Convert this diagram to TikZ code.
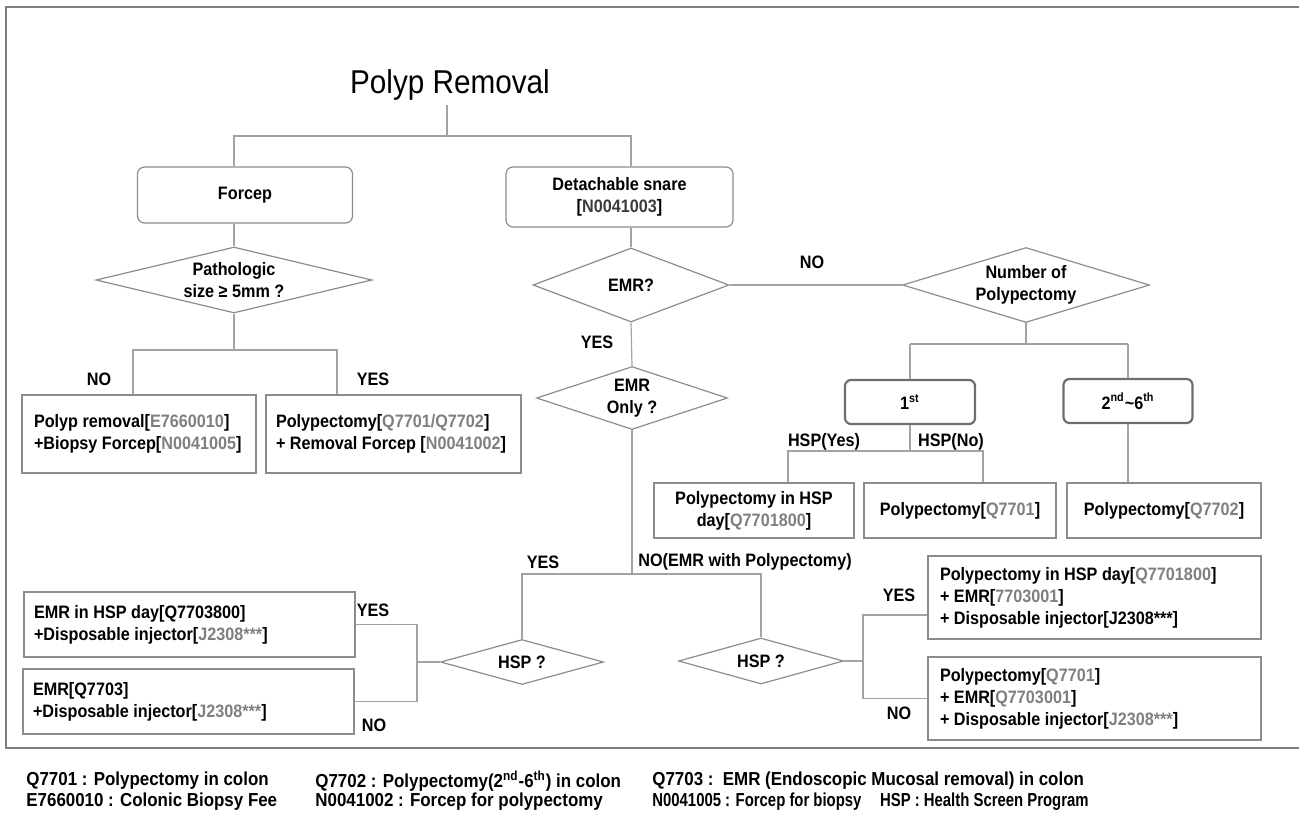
\documentclass[tikz,border=0pt]{standalone}
\usepackage{fontspec}
\setmainfont{Liberation Sans}[FakeStretch=0.9]
\newfontfamily\chartfont{Liberation Sans Bold}[FakeStretch=0.9]
\usepackage{xcolor}
\usepackage{graphicx}
\usepackage{tikz}
\usetikzlibrary{shapes.geometric, arrows, arrows.meta, positioning, calc}
\definecolor{linegray}{HTML}{A3A3A3}
\definecolor{boxgray}{HTML}{8C8C8C}
\definecolor{codegray}{HTML}{7F7F7F}
\definecolor{snaregray}{HTML}{3C3C3C}
\definecolor{framegray}{HTML}{7F7F7F}
\definecolor{stepgray}{HTML}{6E6E6E}
\tikzstyle{choice} = [rectangle,
rounded corners=3.5pt,
draw=boxgray, line width=0.6pt,
align=center]
\tikzstyle{count} = [rectangle,
rounded corners=3pt,
draw=stepgray, line width=1.1pt,
align=center]
\tikzstyle{decision} = [diamond,
draw=boxgray, line width=0.6pt,
inner sep=0pt, align=center]
\tikzstyle{result} = [rectangle,
draw=boxgray, line width=0.6pt,
inner sep=0pt, align=center]
\tikzstyle{leftresult} = [rectangle,
draw=boxgray, line width=0.6pt,
inner ysep=0pt, align=flush left]
\tikzstyle{branch} = [draw=linegray, line width=0.6pt]
\tikzstyle{answer} = [inner sep=1pt]
\tikzstyle{legend} = [anchor=west, inner sep=0pt,
font=\chartfont\fontsize{9.4pt}{11pt}\selectfont]
\newcommand{\code}[1]{\textcolor{codegray}{#1}}
\newcommand{\narrow}[1]{\scalebox{0.88}[1]{#1}}

\begin{document}
\begin{tikzpicture}[x=0.5pt, y=-0.5pt, font=\chartfont\fontsize{9pt}{11pt}\selectfont]
            \useasboundingbox (0,0) rectangle (1299,814);
            \draw [line width=1.4pt, draw=framegray] (6,7) rectangle (1304,748);

            % tree head
            \node (title) [font=\rmfamily\fontsize{16.5pt}{18pt}\selectfont, inner sep=2pt] at (450,85) {Polyp Removal};
            \node (forcep) [choice, minimum width=107.5pt, minimum height=28pt] at (245,195) {Forcep};
            \node (snare) [choice, minimum width=113.5pt, minimum height=30pt] at (619.5,197) {Detachable snare\\{}[\textcolor{snaregray}{N0041003}]};

            % forcep side
            \node (size) [decision, aspect=4.2, minimum width=138pt, minimum height=33pt] at (234,280) {Pathologic\\size ≥ 5mm ?};
            \node (biopsy) [leftresult, text width=105pt, inner xsep=6pt, minimum height=39pt] at (139,434) {Polyp removal[\code{E7660010}]\\+Biopsy Forcep[\code{N0041005}]};
            \node (removal) [leftresult, text width=117.5pt, inner xsep=5pt, minimum height=39pt] at (393.5,434) {Polypectomy[\code{Q7701/Q7702}]\\+ Removal Forcep [\code{N0041002}]};

            % snare side
            \node (emr) [decision, aspect=2.65, minimum width=98pt, minimum height=37pt] at (631,285) {EMR?};
            \node (emronly) [decision, aspect=3, minimum width=95.5pt, minimum height=31.5pt] at (632,398) {EMR\\Only ?};
            \node (number) [decision, aspect=3.3, minimum width=123.5pt, minimum height=37.5pt] at (1026,285) {Number of\\Polypectomy};
            \node (first) [count, minimum width=65pt, minimum height=22pt] at (910,402) {1\textsuperscript{st}};
            \node (later) [count, minimum width=64.5pt, minimum height=22pt] at (1128,401) {2\textsuperscript{nd}\textasciitilde 6\textsuperscript{th}};
            \node (hspday) [result, minimum width=100pt, minimum height=27.5pt] at (754,510.5) {Polypectomy in HSP\\day[\code{Q7701800}]};
            \node (single) [result, minimum width=96pt, minimum height=27.5pt] at (960,510.5) {Polypectomy[\code{Q7701}]};
            \node (repeat) [result, minimum width=97pt, minimum height=27.5pt] at (1164,510.5) {Polypectomy[\code{Q7702}]};

            % EMR branches
            \node (hspleft) [decision, aspect=3.6, minimum width=81.5pt, minimum height=22.5pt] at (522,662) {HSP ?};
            \node (hspright) [decision, aspect=3.6, minimum width=82.5pt, minimum height=23pt] at (761,661) {HSP ?};
            \node (emrday) [leftresult, text width=155.5pt, inner xsep=5pt, minimum height=32.5pt] at (189.5,624.5) {EMR in HSP day[Q7703800]\\+Disposable injector[\code{J2308***}]};
            \node (emrplain) [leftresult, text width=155.5pt, inner xsep=5pt, minimum height=32.5pt] at (188.5,701.5) {EMR[Q7703]\\+Disposable injector[\code{J2308***}]};
            \node (combiday) [leftresult, text width=154.5pt, inner xsep=6pt, minimum height=41.5pt] at (1094.5,597.5) {Polypectomy in HSP day[\code{Q7701800}]\\+ EMR[\code{7703001}]\\+ Disposable injector[J2308***]};
            \node (combi) [leftresult, text width=154.5pt, inner xsep=6pt, minimum height=41.5pt] at (1094.5,698.5) {Polypectomy[\code{Q7701}]\\+ EMR[\code{Q7703001}]\\+ Disposable injector[\code{J2308***}]};

            % junctions
            \coordinate (top) at (447,136);
            \coordinate (sizeno) at (133,350);
            \coordinate (sizeyes) at (337,350);
            \coordinate (count) at (1026,344);
            \coordinate (hspyes) at (788,451);
            \coordinate (hspno) at (983,451);
            \coordinate (split) at (632,574);
            \coordinate (leftjoin) at (417,662);
            \coordinate (rightjoin) at (863,661);
            \coordinate (rightyes) at (863,615);

            \draw [branch] (top |- title.south) -- (top);
            \draw [branch] (size.north |- forcep.north) -- (size.north |- top) -- (emr.north |- top) -- (emr.north |- snare.north);
            \draw [branch] (size.north |- forcep.south) -- (size.north);
            \draw [branch] (size.south) -- (size.south |- sizeno);
            \draw [branch] (sizeno |- biopsy.north) -- (sizeno) -- (sizeyes) -- (sizeyes |- removal.north);
            \draw [branch] (emr.north |- snare.south) -- (emr.north);
            \draw [branch] (emr.south) -- (emronly.north);
            \draw [branch] (emr.east) -- (number.west);
            \draw [branch] (number.south) -- (count);
            \draw [branch] (first.north |- count) -- (later.north |- count);
            \draw [branch] (first.north |- count) -- (first.north);
            \draw [branch] (later.north |- count) -- (later.north);
            \draw [branch] (first.south) -- (first.south |- hspyes);
            \draw [branch] (hspyes |- hspday.north) -- (hspyes) -- (hspno) -- (hspno |- single.north);
            \draw [branch] (later.south) -- (later.south |- repeat.north);
            \draw [branch] (emronly.south) -- (split);
            \draw [branch] (hspleft.north) -- (hspleft.north |- split) -- (hspright.north |- split) -- (hspright.north);
            \draw [branch] (hspleft.west) -- (leftjoin);
            \draw [branch] (emrday.east) -| (leftjoin) |- (emrplain.east);
            \draw [branch] (hspright.east) -- (rightjoin);
            \draw [branch] (rightyes -| combiday.west) -- (rightyes) -- (rightjoin) |- (combi.west);

            % answers
            \node (nosize) [answer] at (99,379) {NO};
            \node (yessize) [answer] at (373,379) {YES};
            \node (noemr) [answer] at (812,262) {NO};
            \node (yesemr) [answer] at (597,342) {YES};
            \node (hspy) [answer] at (824,442) {HSP(Yes)};
            \node (hspn) [answer] at (951,442) {HSP(No)};
            \node (yesonly) [answer] at (543,562) {YES};
            \node (noonly) [answer, anchor=west] at (636,562) {NO(EMR with Polypectomy)};
            \node (yesleft) [answer] at (373,610) {YES};
            \node (noleft) [answer] at (374,725) {NO};
            \node (yesright) [answer] at (899,595) {YES};
            \node (noright) [answer] at (899,713) {NO};

            % legend
            \node (leg1) [legend] at (26,781) {Q7701 : Polypectomy in colon};
            \node (leg2) [legend] at (315,781) {Q7702 : Polypectomy(2\textsuperscript{nd}-6\textsuperscript{th}) in colon};
            \node (leg3) [legend] at (652,781) {Q7703 :\ \ EMR (Endoscopic Mucosal removal) in colon};
            \node (leg4) [legend] at (26,802) {E7660010 : Colonic Biopsy Fee};
            \node (leg5) [legend] at (315,802) {N0041002 : Forcep for polypectomy};
            \node (leg6) [legend] at (652,802) {\narrow{N0041005 : Forcep for biopsy}};
            \node (leg7) [legend, anchor=east] at (1089,802) {\narrow{HSP : Health Screen Program}};
        \end{tikzpicture}
\end{document}
